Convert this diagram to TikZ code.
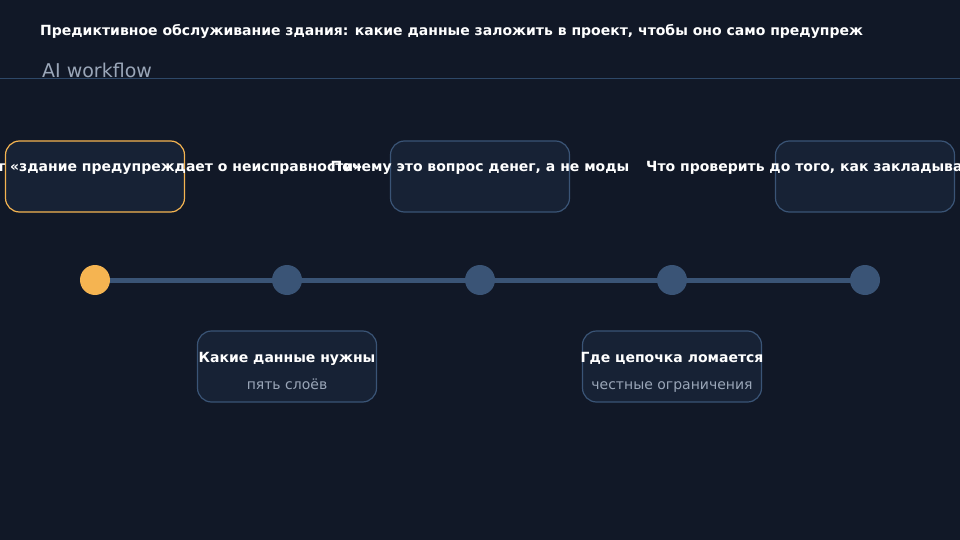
\documentclass[tikz,border=0pt]{standalone}
\usepackage{fontspec}
\setmainfont{DejaVu Sans}
\begin{document}
\begin{tikzpicture}[x=1pt,y=-1pt,
  card/.style={draw=cardline,fill=cardfill,line width=1.2pt,rounded corners=14pt,minimum width=179pt,minimum height=71pt,inner sep=0pt},
  cardon/.style={card,draw=accent},
  ttl/.style={font=\bfseries\fontsize{14}{16}\selectfont,text=white,inner sep=0pt},
  sub/.style={font=\fontsize{14}{16}\selectfont,text=subgray,inner sep=0pt},
  dot/.style={circle,fill=cardline,minimum size=30pt,inner sep=0pt},
  doton/.style={dot,fill=accent}
]
\definecolor{bg}{HTML}{111827}
\definecolor{cardfill}{HTML}{172235}
\definecolor{cardline}{HTML}{3A5476}
\definecolor{accent}{HTML}{F5B451}
\definecolor{subgray}{HTML}{9AA6B8}
\definecolor{hline}{HTML}{2E4868}
\useasboundingbox[fill=bg] (0,0) rectangle (960,540);
% header
\node[ttl,anchor=base west] (title) at (40,35.5) {Предиктивное обслуживание здания: какие данные заложить в проект, чтобы оно само предупреж};
\node[font=\fontsize{19}{21}\selectfont,text=subgray,anchor=base west,inner sep=0pt] (sub) at (42,77.5) {AI workflow};
\coordinate (hl) at (0,78.5);
\coordinate (hr) at (960,78.5);
\draw[hline,line width=1pt] (hl) -- (hr);
% cards
\node[cardon] (c1) at (95,176.5) {};
\node[card] (c3) at (480,176.5) {};
\node[card] (c5) at (865,176.5) {};
\node[card] (c2) at (287,366.5) {};
\node[card] (c4) at (672,366.5) {};
% card texts
\node[ttl,anchor=base west] (t1) at (-3,171.5) {т «здание предупреждает о неисправности»};
\node[ttl,anchor=base] (t3) at (480,171.5) {Почему это вопрос денег, а не моды};
\node[ttl,anchor=base west] (t5) at (646,171.5) {Что проверить до того, как закладыва};
\node[ttl,anchor=base] (t2) at (287,362.5) {Какие данные нужны};
\node[sub,anchor=base] (s2) at (287,389.5) {пять слоёв};
\node[ttl,anchor=base] (t4) at (672,362.5) {Где цепочка ломается};
\node[sub,anchor=base] (s4) at (672,389.5) {честные ограничения};
% timeline
\draw[cardline,line width=5pt] (95,280) -- (865,280);
\node[doton] (d1) at (95,280) {};
\node[dot] (d2) at (287,280) {};
\node[dot] (d3) at (480,280) {};
\node[dot] (d4) at (672,280) {};
\node[dot] (d5) at (865,280) {};
\end{tikzpicture}
\end{document}
